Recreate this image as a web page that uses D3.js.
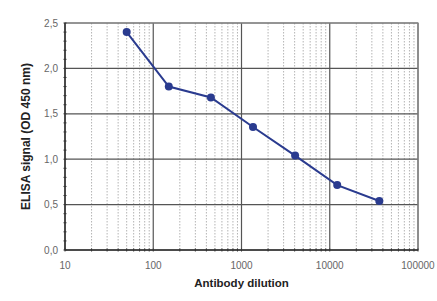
<!DOCTYPE html>
<html>
<head>
<meta charset="utf-8">
<script src="https://cdn.jsdelivr.net/npm/d3@7"></script>
<style>
    body { margin: 0; background: #fff; }
    svg { display: block; font-family: Arial, "Liberation Sans", sans-serif; }
</style>
</head>
<body>
<div class="container"></div>
<script>
// antibody dilution vs ELISA signal
const dilutions = [50, 150, 450, 1350, 4050, 12150, 36450];
const signals = [2.40, 1.80, 1.68, 1.355, 1.04, 0.715, 0.54];
const xTicks = [10, 100, 1000, 10000, 100000];
const yTicks = [0, 0.5, 1.0, 1.5, 2.0, 2.5];

const width = 437;
const height = 301;
const margin = { top: 23, right: 19, bottom: 51, left: 65 };

const svg = d3.select('.container').append('svg').attr('width', width).attr('height', height);

const x = d3.scaleLog().domain([10, 100000]).range([margin.left, width - margin.right]);
const y = d3.scaleLinear().domain([0, 2.5]).range([height - margin.bottom, margin.top]);

const g = svg.append('g');

// minor vertical grid (dotted)
let minors = [];
for (let d = 10; d < 100000; d *= 10)
{
    for (let k = 2; k <= 9; k++)
        minors.push(d * k);
}

g.selectAll('.minor').data(minors).enter().append('line')
    .attr('x1', d => x(d)).attr('x2', d => x(d))
    .attr('y1', y(2.5)).attr('y2', y(0))
    .attr('stroke', '#b4b4b4').attr('stroke-width', 1)
    .attr('stroke-dasharray', '1.5,1.5');

// major grid
g.selectAll('.hgrid').data(yTicks).enter().append('line')
    .attr('x1', x(10)).attr('x2', x(100000))
    .attr('y1', d => y(d)).attr('y2', d => y(d))
    .attr('stroke', '#555').attr('stroke-width', 1.2);

g.selectAll('.vgrid').data(xTicks).enter().append('line')
    .attr('x1', d => x(d)).attr('x2', d => x(d))
    .attr('y1', y(2.5)).attr('y2', y(0))
    .attr('stroke', '#555').attr('stroke-width', 1.2);

// frame
g.append('rect')
    .attr('x', x(10)).attr('y', y(2.5))
    .attr('width', x(100000) - x(10)).attr('height', y(0) - y(2.5))
    .attr('fill', 'none').attr('stroke', '#888').attr('stroke-width', 1.2);

// axes lines
g.append('line').attr('x1', x(10)).attr('x2', x(10)).attr('y1', y(2.5)).attr('y2', y(0))
    .attr('stroke', '#333').attr('stroke-width', 1.5);
g.append('line').attr('x1', x(10)).attr('x2', x(100000)).attr('y1', y(0)).attr('y2', y(0))
    .attr('stroke', '#333').attr('stroke-width', 1.5);

// small ticks on axes
const yMinor = d3.range(0, 2.51, 0.1);
g.selectAll('.ytick').data(yMinor).enter().append('line')
    .attr('x1', x(10) - 1.5).attr('x2', x(10) + 1.5)
    .attr('y1', d => y(d)).attr('y2', d => y(d))
    .attr('stroke', '#333');

g.selectAll('.xtick').data(minors.concat(xTicks)).enter().append('line')
    .attr('x1', d => x(d)).attr('x2', d => x(d))
    .attr('y1', y(0) - 1.5).attr('y2', y(0) + 1.5)
    .attr('stroke', '#333');

// tick labels
g.selectAll('.ylab').data(yTicks).enter().append('text')
    .attr('x', x(10) - 7).attr('y', d => y(d) + 3.5)
    .attr('text-anchor', 'end').attr('font-size', 10).attr('fill', '#666')
    .text(d => d.toFixed(1).replace('.', ','));

g.selectAll('.xlab').data(xTicks).enter().append('text')
    .attr('x', d => x(d)).attr('y', y(0) + 19)
    .attr('text-anchor', 'middle').attr('font-size', 10).attr('fill', '#666')
    .text(d => d);

// titles
svg.append('text')
    .attr('x', x(1000)).attr('y', 287)
    .attr('text-anchor', 'middle').attr('font-size', 11.5).attr('font-weight', 'bold').attr('fill', '#222')
    .text('Antibody dilution');

svg.append('text')
    .attr('transform', `translate(30,${(y(0) + y(2.5)) / 2}) rotate(-90)`)
    .attr('text-anchor', 'middle').attr('font-size', 12).attr('font-weight', 'bold').attr('fill', '#222')
    .text('ELISA signal (OD 450 nm)');

// series
const pts = dilutions.map((d, i) => [d, signals[i]]);
const line = d3.line().x(d => x(d[0])).y(d => y(d[1]));

g.append('path').datum(pts)
    .attr('d', line).attr('fill', 'none')
    .attr('stroke', '#2a3b8f').attr('stroke-width', 2);

g.selectAll('.pt').data(pts).enter().append('circle')
    .attr('cx', d => x(d[0])).attr('cy', d => y(d[1])).attr('r', 4)
    .attr('fill', '#2a3b8f');
</script>
</body>
</html>
